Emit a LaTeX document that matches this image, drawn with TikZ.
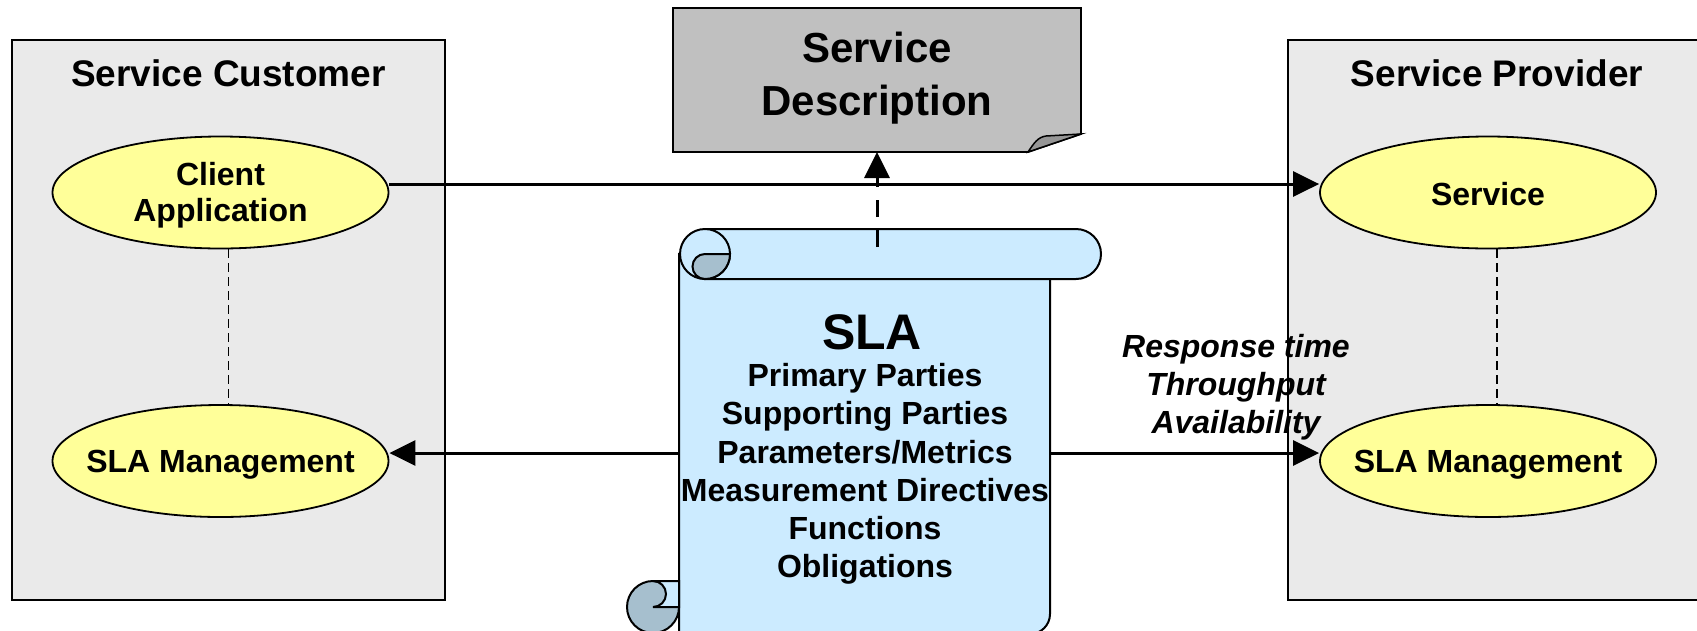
\documentclass[tikz,border=0pt]{standalone}
\usepackage{fontspec}
\setmainfont{Liberation Sans}
\usetikzlibrary{arrows.meta,shapes.geometric}
\definecolor{panelfill}{HTML}{EAEAEA}
\definecolor{ovalfill}{HTML}{FFFF99}
\definecolor{scrollfill}{HTML}{CCEBFF}
\definecolor{curlfill}{HTML}{A6BFCE}
\definecolor{sheetfill}{HTML}{C0C0C0}
\definecolor{flapfill}{HTML}{969696}
\tikzset{
  panel/.style={draw=black, line width=1.8pt, fill=panelfill},
  oval/.style={ellipse, draw=black, line width=1.8pt, fill=ovalfill, inner sep=0pt, minimum width=336pt, minimum height=112pt},
  lbl/.style={font=\bfseries\fontsize{32}{36}\selectfont, align=center, inner sep=0pt},
  lblit/.style={font=\bfseries\itshape\fontsize{32}{38}\selectfont, inner sep=0pt, anchor=base},
  ttl/.style={font=\bfseries\fontsize{37}{44}\selectfont, inner sep=0pt, anchor=base},
  item/.style={font=\bfseries\fontsize{32}{38}\selectfont, inner sep=0pt, anchor=base},
  flow/.style={line width=3pt, -{Triangle[length=26pt,width=25pt]}},
  link/.style={line width=1.5pt, dash pattern=on 9pt off 5pt},
  scrollline/.style={draw=black, line width=2pt},
}
\begin{document}
\begin{tikzpicture}[x=1pt, y=-1pt]
\useasboundingbox (0,0) rectangle (1697,630);
\clip (0,0) rectangle (1697,630);

% party panels
\draw[panel] (12,40) rectangle (445,600);
\draw[panel] (1288,40) rectangle (1730,600);
\node[ttl] (cust) at (228.5,86) {Service Customer};
\node[ttl] (prov) at (1497,86) {Service Provider};

% ovals
\node[oval] (client) at (220.5,192.5) {};
\node[lbl] (clienttxt) at (220.5,195) {Client\\Application};
\node[oval] (slaL) at (220.5,461) {};
\node[lbl, anchor=base] (slaLtxt) at (220.5,472) {SLA Management};
\node[oval] (service) at (1488,192.5) {};
\node[lbl, anchor=base] (servicetxt) at (1488,205.5) {Service};
\node[oval] (slaR) at (1488,461) {};
\node[lbl, anchor=base] (slaRtxt) at (1488,472) {SLA Management};

% dashed links inside panels
\draw[link] (client.south -| cust.base) -- (slaL.north -| cust.base);
\draw[link] (service.south -| prov.base) -- (slaR.north -| prov.base);

% service description sheet with folded corner
\draw[line width=1.8pt, fill=sheetfill] (673,8) -- (1081,8) -- (1081,134) -- (1028,152) -- (673,152) -- cycle;
\draw[line width=1.5pt, fill=flapfill] (1028,152) .. controls (1034,143) and (1038,137) .. (1046,136) -- (1081,134) -- cycle;
\node[font=\bfseries\fontsize{42}{53}\selectfont, inner sep=0pt, anchor=base] (sd1) at (877,62) {Service};
\node[font=\bfseries\fontsize{42}{53}\selectfont, inner sep=0pt, anchor=base] (sd2) at (877,115) {Description};
\coordinate (sdbottom) at (877,152);

% SLA scroll: body
\draw[scrollline, fill=scrollfill] (679,254) -- (679,634) -- (1030,634)
  arc[start angle=90, end angle=0, radius=20] -- (1050,279) -- cycle;
% top roll
\draw[scrollline, fill=scrollfill] (705,229) -- (1076,229)
  arc[start angle=270, end angle=450, radius=25] -- (705,279) -- cycle;
\draw[scrollline, fill=scrollfill] (705,254) circle (25);
\draw[scrollline, fill=curlfill] (705,254) -- (730,254)
  arc[start angle=0, end angle=90, radius=25]
  arc[start angle=90, end angle=270, radius=12.5] -- cycle;
% bottom curl
\draw[scrollline, fill=curlfill] (653,607) circle (26);
\draw[scrollline, fill=scrollfill] (653,581) -- (679,581) -- (679,607) -- (653,607)
  arc[start angle=90, end angle=-90, radius=13] -- cycle;

% scroll text
\node[font=\bfseries\fontsize{50}{60}\selectfont, inner sep=0pt, anchor=base] (slattl) at (872,349) {SLA};
\node[item] (i1) at (865,386) {Primary Parties};
\node[item] (i2) at (865,424.5) {Supporting Parties};
\node[item] (i3) at (865,463) {Parameters/Metrics};
\node[item] (i4) at (865,501) {Measurement Directives};
\node[item] (i5) at (865,539) {Functions};
\node[item] (i6) at (865,577) {Obligations};

\coordinate (scrollL) at (679,453);
\coordinate (scrollR) at (1050,453);
\coordinate (scrollTop) at (877,247);

% connectors
\draw[flow] ([yshift=8.5pt]client.east) -- ([yshift=8.5pt]service.west);
\draw[flow] (scrollL) -- ([yshift=8pt]slaL.east);
\draw[flow] (scrollR) -- ([yshift=8pt]slaR.west);
\draw[flow, dash pattern=on 17pt off 13pt] (scrollTop) -- (sdbottom);

% measured quantities
\node[lblit] (m1) at (1236,357) {Response time};
\node[lblit] (m2) at (1236,395) {Throughput};
\node[lblit] (m3) at (1236,433) {Availability};
\end{tikzpicture}
\end{document}
